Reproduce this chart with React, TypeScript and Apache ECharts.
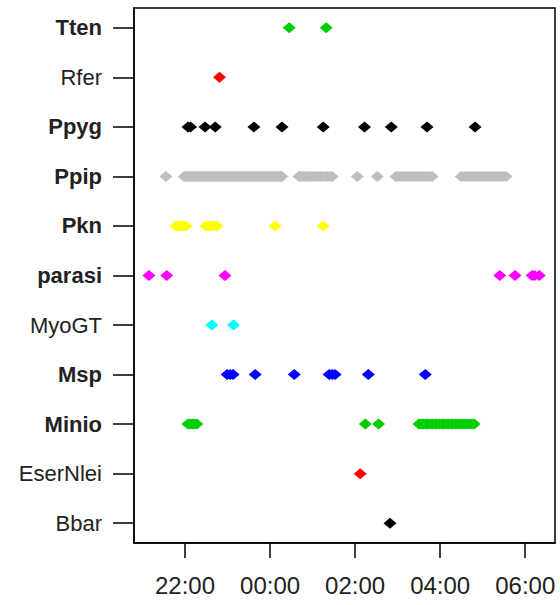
import React, { useEffect, useRef } from "react";
import * as echarts from "echarts";

// categories, bottom (1) to top (11)
const categories = ["Bbar", "EserNlei", "Minio", "Msp", "MyoGT", "parasi", "Pkn", "Ppip", "Ppyg", "Rfer", "Tten"];
const boldLabels = ["Tten", "Ppyg", "Ppip", "Pkn", "parasi", "Msp", "Minio"];
const colors: Record<string, string> = {
  Bbar: "#000000",
  EserNlei: "#FF0000",
  Minio: "#00CD00",
  Msp: "#0000FF",
  MyoGT: "#00FFFF",
  parasi: "#FF00FF",
  Pkn: "#FFFF00",
  Ppip: "#BEBEBE",
  Ppyg: "#000000",
  Rfer: "#FF0000",
  Tten: "#00CD00",
};

// times in hours since previous midnight (values > 24 are after midnight)
const tten = [24.45, 25.32];
const rfer = [22.81];
const ppyg = [22.07, 22.13, 22.47, 22.71, 23.62, 24.28, 25.25, 26.22, 26.85, 27.69, 28.82];
const ppip = [
  21.55, 21.98, 22.02, 22.06, 22.09, 22.13, 22.17, 22.2, 22.24, 22.28, 22.31, 22.35, 22.39, 22.42, 22.46,
  22.5, 22.53, 22.57, 22.61, 22.64, 22.68, 22.72, 22.75, 22.79, 22.83, 22.86, 22.9, 22.94, 22.97, 23.01,
  23.05, 23.08, 23.12, 23.16, 23.19, 23.23, 23.27, 23.3, 23.34, 23.38, 23.41, 23.45, 23.49, 23.52, 23.56,
  23.6, 23.63, 23.67, 23.71, 23.74, 23.78, 23.82, 23.85, 23.89, 23.93, 23.96, 24.0, 24.04, 24.07, 24.11,
  24.15, 24.18, 24.22, 24.25, 24.28,
  24.68, 24.72, 24.77, 24.82, 24.86, 24.92, 24.97, 25.02, 25.06, 25.12, 25.18, 25.22, 25.28, 25.34, 25.4,
  25.46,
  26.05, 26.52,
  26.96, 27.01, 27.07, 27.12, 27.18, 27.24, 27.3, 27.35, 27.41, 27.47, 27.53, 27.58, 27.64, 27.7, 27.76,
  27.81,
  28.49, 28.56, 28.62, 28.68, 28.74, 28.8, 28.85, 28.91, 28.97, 29.03, 29.09, 29.14, 29.2, 29.26, 29.32,
  29.38, 29.43, 29.49, 29.55,
];
const pkn = [21.79, 21.84, 21.9, 21.96, 22.02, 22.49, 22.55, 22.6, 22.67, 22.75, 24.12, 25.25];
const parasi = [21.15, 21.57, 22.94, 29.4, 29.76, 30.16, 30.22, 30.33];
const myogt = [22.63, 23.14];
const msp = [22.99, 23.06, 23.13, 23.65, 24.57, 25.39, 25.46, 25.53, 26.31, 27.65];
const minio = [
  22.07, 22.12, 22.17, 22.22, 22.28, 26.24, 26.55,
  27.5, 27.55, 27.6, 27.66, 27.71, 27.77, 27.82, 27.88, 27.93, 27.98, 28.04, 28.09, 28.15, 28.2, 28.26,
  28.31, 28.37, 28.42, 28.48, 28.53, 28.59, 28.64, 28.7, 28.75, 28.8,
];
const eserNlei = [26.12];
const bbar = [26.82];

const seriesValues: Record<string, number[]> = {
  Bbar: bbar,
  EserNlei: eserNlei,
  Minio: minio,
  Msp: msp,
  MyoGT: myogt,
  parasi: parasi,
  Pkn: pkn,
  Ppip: ppip,
  Ppyg: ppyg,
  Rfer: rfer,
  Tten: tten,
};

const xTicks = [22, 24, 26, 28, 30];
const yTicks = [1, 2, 3, 4, 5, 6, 7, 8, 9, 10, 11];

export default function App() {
  const ref = useRef<HTMLDivElement>(null);
  useEffect(() => {
    if (!ref.current) return;
    const chart = echarts.init(ref.current, undefined, { renderer: "svg" });
    const font = "'Liberation Sans', Arial, sans-serif";
    chart.setOption({
      animation: false,
      grid: {
        left: 134,
        right: 5,
        top: 8,
        bottom: 62,
        show: true,
        borderColor: "#000",
        borderWidth: 1.5,
        backgroundColor: "transparent",
      },
      xAxis: {
        type: "value",
        min: 20.8,
        max: 30.7,
        splitLine: { show: false },
        axisLine: { show: true, onZero: false, lineStyle: { color: "#000", width: 1.5 } },
        axisTick: {
          show: true,
          length: 15,
          customValues: xTicks,
          lineStyle: { color: "#000", width: 1.5 },
        },
        axisLabel: {
          customValues: xTicks,
          margin: 30,
          fontSize: 24,
          fontFamily: font,
          color: "#222",
          formatter: (v: number) => String(Math.round(v) % 24).padStart(2, "0") + ":00",
        },
      },
      yAxis: {
        type: "value",
        min: 0.6,
        max: 11.4,
        splitLine: { show: false },
        axisLine: { show: true, onZero: false, lineStyle: { color: "#000", width: 1.5 } },
        axisTick: {
          show: true,
          length: 21,
          customValues: yTicks,
          lineStyle: { color: "#000", width: 1.5 },
        },
        axisLabel: {
          customValues: yTicks,
          margin: 32,
          fontSize: 22,
          fontFamily: font,
          color: "#222",
          formatter: (v: number) => {
            const name = categories[Math.round(v) - 1] || "";
            return boldLabels.includes(name) ? `{b|${name}}` : `{n|${name}}`;
          },
          rich: {
            b: { fontSize: 22, fontFamily: font, fontWeight: "bold", color: "#222" },
            n: { fontSize: 22, fontFamily: font, fontWeight: "normal", color: "#222" },
          },
        },
      },
      series: categories.map((name, i) => ({
        type: "scatter",
        name,
        symbol: "diamond",
        symbolSize: [13, 11],
        itemStyle: { color: colors[name], opacity: 1 },
        data: seriesValues[name].map((h) => [h, i + 1]),
      })),
    });
    return () => chart.dispose();
  }, []);
  return (
    <div
      ref={ref}
      style={{ position: "absolute", left: 0, top: 0, width: 560, height: 605, background: "#fff" }}
    />
  );
}
